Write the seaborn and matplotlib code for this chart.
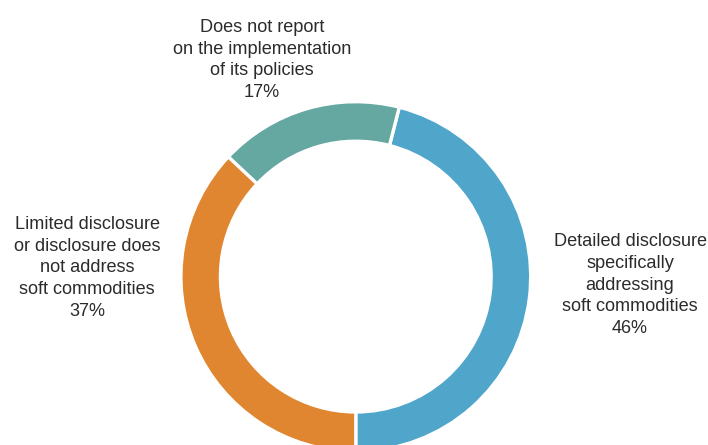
import matplotlib
matplotlib.use("Agg")
import matplotlib.pyplot as plt
import seaborn as sns

categories = [
    "Detailed disclosure\nspecifically\naddressing\nsoft commodities",
    "Does not report\non the implementation\nof its policies",
    "Limited disclosure\nor disclosure does\nnot address\nsoft commodities",
]
values = [46, 17, 37]
colors = ["#50A5CA", "#65A8A2", "#E18630"]

sns.set_theme(style="white")
plt.rcParams["font.family"] = ["Liberation Sans", "DejaVu Sans"]

W, H = 708, 445
fig = plt.figure(figsize=(W / 100, H / 100), dpi=100)
ax = fig.add_axes([0, 0, 1, 1])

cx, cy, R = 355.8, 276.6, 174.9  # pixel geometry of the ring


def px(x, y):
    return (x - cx) / R, (cy - y) / R


ax.pie(values, colors=colors, startangle=-90, counterclock=True, radius=1.0,
       wedgeprops=dict(width=0.226, edgecolor="white", linewidth=2.4))

ax.set_xlim(px(0, 0)[0], px(W, 0)[0])
ax.set_ylim(px(0, H)[1], px(0, 0)[1])
ax.set_aspect("auto")
ax.axis("off")

label_pos = [(630, 285), (262, 60), (87, 268)]
for cat, v, (lx, ly) in zip(categories, values, label_pos):
    x, y = px(lx, ly)
    ax.text(x, y, f"{cat}\n{v}%", ha="center", va="center", fontsize=13.1,
            color="#2b2b2b", linespacing=1.38)

fig.savefig("out.png", dpi=100)
